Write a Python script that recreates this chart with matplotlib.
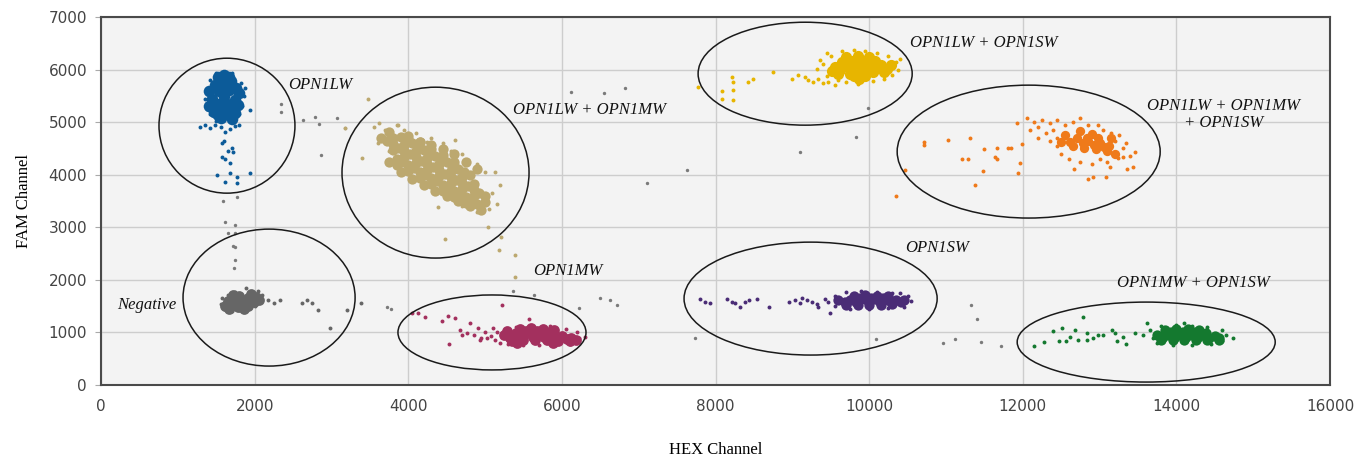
import matplotlib
matplotlib.use("Agg")
import matplotlib.pyplot as plt
from matplotlib.patches import Ellipse

# ---- droplet data (HEX, FAM) ----
# dense cores (drawn with bigger dots) and loose droplets around them

lw_core_x = [1480, 1620, 1760, 1450, 1600, 1740, 1470, 1610, 1750, 1520, 1660, 1560, 1700, 1540, 1680,
             1550, 1690, 1530, 1410, 1800, 1660, 1520, 1680, 1600, 1400, 1790, 1600]
lw_core_y = [5700, 5750, 5650, 5450, 5500, 5420, 5200, 5250, 5180, 5850, 5850, 5080, 5060, 5600, 5330,
             5780, 5780, 5350, 5600, 5550, 5620, 5130, 5150, 5400, 5300, 5330, 5900]
lw_x = [1370, 1390, 1420, 1860, 1840, 1820, 1500, 1700, 1600, 1420, 1800, 1350, 1880,
        1290, 1350, 1420, 1480, 1560, 1620, 1680, 1740, 1800, 1500, 1700, 1940, 1380,
        1575, 1600, 1720, 1575, 1620, 1680, 1680, 1510, 1770, 1940, 1770, 1610, 1700, 1650]
lw_y = [5600, 5350, 5800, 5500, 5300, 5750, 5930, 5940, 5960, 5150, 5150, 5450, 5650,
        4900, 4950, 4880, 4950, 4900, 4820, 4870, 4920, 4950, 5020, 5030, 5230, 5250,
        4600, 4650, 4430, 4340, 4300, 4220, 4030, 3990, 3950, 4030, 3840, 3860, 4500, 4450]

neg_core_x = [1650, 1780, 1910, 2020, 1620, 1740, 1870, 1990, 1720, 1860, 1700, 1950,
              1700, 1830, 1960, 1800, 1790, 1920, 2060, 1660]
neg_core_y = [1600, 1630, 1650, 1680, 1500, 1520, 1540, 1570, 1720, 1450, 1660, 1740,
              1580, 1590, 1610, 1700, 1480, 1500, 1620, 1450]
neg_x = [1560, 1580, 1600, 1650, 1700, 1800, 1900, 2000, 2080, 2100, 2050, 1950, 1750,
         2180, 2250, 2330, 2620, 2680, 2750, 2820, 2980, 3200, 3390, 1890]
neg_y = [1550, 1650, 1450, 1720, 1400, 1420, 1430, 1500, 1600, 1720, 1780, 1760, 1760,
         1620, 1560, 1620, 1560, 1620, 1560, 1430, 1080, 1430, 1560, 1840]

lm_core_x = [3650, 3800, 3950, 4100, 4250, 4400, 4550, 4700, 4850, 5000,
             3900, 4050, 4200, 4350, 4500, 4650, 4800,
             3850, 4000, 4150, 4300, 4450, 4600, 4750, 4900,
             3725, 3875, 4025, 4175, 4325, 4475, 4625, 4775, 4925,
             3975, 4125, 4275, 4425, 4575, 4725,
             3925, 4075, 4225, 4375, 4525, 4675, 4825,
             3750, 4000, 4150, 4300, 4450, 4600, 4750, 4900,
             3750, 3900, 4050, 4200, 4350, 4500, 4650, 4800, 4950,
             3800, 3950, 4100, 4250, 4400, 4550, 4700, 4850,
             3800, 3950, 4100, 4250, 4400, 4550, 4700, 4850, 5000,
             4000, 4150, 4300, 4450, 4600,
             3850, 4000, 4150, 4300, 4450, 4600, 4750]
lm_core_y = [4700, 4577, 4454, 4331, 4208, 4085, 3962, 3839, 3716, 3593,
             4725, 4602, 4479, 4356, 4233, 4110, 3987,
             4306, 4183, 4060, 3937, 3814, 3691, 3568, 3445,
             4638, 4515, 4392, 4270, 4146, 4023, 3900, 3777, 3655,
             4660, 4540, 4420, 4295, 4170, 4050,
             4250, 4120, 4000, 3875, 3750, 3630, 3510,
             4820, 4680, 4620, 4560, 4480, 4400, 4250, 4100,
             4250, 4050, 3920, 3800, 3700, 3600, 3500, 3400, 3330,
             4692, 4569, 4446, 4323, 4200, 4077, 3954, 3831,
             4462, 4339, 4216, 4093, 3970, 3847, 3724, 3601, 3478,
             4743, 4620, 4497, 4374, 4251,
             4191, 4068, 3945, 3822, 3699, 3576, 3453]
lm_x = [3550, 3600, 3700, 3750, 3850, 3950, 4100, 4300, 4450, 4610, 4700, 4900, 5000, 5130,
        5200, 5090, 5150, 5050, 4900, 4700, 4390, 3480, 3180, 3400, 3870, 3620, 4250, 4550,
        4480, 5040, 5210, 5180, 5390, 5390]
lm_y = [4900, 4600, 4850, 4450, 4950, 4850, 4800, 4700, 4600, 4660, 4400, 4200, 4050, 4050,
        3800, 3650, 3450, 3350, 3300, 3400, 3380, 5440, 4890, 4320, 4940, 4980, 4620, 4450,
        2780, 3000, 2810, 2570, 2470, 2050]

mw_core_x = [5250, 5400, 5550, 5700, 5850, 6000, 6120, 5350, 5500, 5650, 5800, 5950, 6100,
             5450, 5600, 5750, 5900,
             5320, 5470, 5620, 5770, 5920, 6070, 5530, 5680, 5830, 5280, 5420, 5880, 6180]
mw_core_y = [960, 980, 990, 990, 960, 930, 900, 840, 850, 860, 850, 840, 830,
             1060, 1080, 1070, 1040,
             900, 920, 920, 920, 900, 870, 1020, 1030, 1000, 1020, 800, 800, 860]
mw_x = [4050, 4130, 4220, 4440, 4520, 4610, 4670, 4760, 4800, 4910, 4930, 4530, 5020, 5100,
        5220, 5570, 4700, 4850, 5000, 4950, 5080, 5150, 5130,
        5200, 5300, 5500, 5700, 5900, 6100, 6220, 6300, 6200, 6050, 5850, 5600, 5400, 5300]
mw_y = [1370, 1370, 1300, 1220, 1310, 1270, 1040, 990, 1180, 1080, 850, 780, 890, 1080,
        1520, 1250, 950, 960, 1000, 900, 930, 1000, 850,
        800, 780, 760, 770, 760, 780, 890, 920, 1000, 1060, 1120, 1130, 1100, 1050]

ls_core_x = [9550, 9700, 9850, 10000, 10150, 9600, 9750, 9900, 10050, 10200, 9700, 9850, 10000,
             9800, 9950,
             9620, 9770, 9920, 10070, 10230, 9650, 9780, 9930, 10080, 9870, 9520, 10290]
ls_core_y = [6050, 6080, 6100, 6100, 6080, 5920, 5920, 5930, 5950, 5960, 6230, 6250, 6230,
             5870, 5870,
             6000, 6000, 6020, 6020, 6020, 6150, 6160, 6170, 6160, 5820, 5980, 6080]
ls_x = [7770, 8080, 8210, 8230, 8230, 8080, 8230, 8420, 8490, 8750, 9000, 9080, 9170, 9200,
        9270, 9340, 9400, 9460, 9560, 9320, 9360, 9450,
        9500, 9650, 9800, 9950, 10100, 10250, 10350, 10380, 10300, 10200, 10050, 9700, 9850,
        9450, 9400, 10400, 9600]
ls_y = [5670, 5590, 5850, 5760, 5620, 5440, 5420, 5760, 5830, 5950, 5830, 5890, 5850, 5800,
        5760, 5830, 5740, 5760, 5700, 6020, 6180, 6310,
        6250, 6350, 6380, 6360, 6320, 6250, 6150, 6000, 5900, 5820, 5780, 5760, 5720,
        5880, 6100, 6200, 5800]

lms_core_x = [12550, 12700, 12850, 13000, 13120, 12650, 12800, 12950, 13100, 13200, 12750, 12900,
              12620, 12780, 12930, 13060, 12830, 12980, 12500, 13150]
lms_core_y = [4750, 4700, 4650, 4600, 4550, 4550, 4500, 4480, 4450, 4400, 4830, 4780,
              4630, 4600, 4560, 4520, 4700, 4690, 4620, 4700]
lms_x = [10710, 10710, 11030, 11310, 11500, 11660, 11810, 11850, 11210, 11290, 11640, 11660,
         11480, 11380, 10470, 10350, 11940, 11960, 11990, 12670, 12850, 12920, 13080, 13360,
         13440, 13460, 13250, 13140, 13240, 13300, 12750, 12980, 11930, 12060,
         12150, 12250, 12350, 12450, 12100, 12200, 12300, 12400, 12200, 12350, 12450, 12550,
         12650, 12850, 13050, 13150, 13350, 13300, 13400, 12500, 12600, 12750, 12900, 13000,
         13100, 12450, 13200]
lms_y = [4620, 4560, 4660, 4700, 4490, 4510, 4510, 4510, 4300, 4300, 4330, 4300,
         4070, 3800, 4090, 3590, 4030, 4220, 4580, 4110, 3920, 3950, 3960, 4110,
         4140, 4430, 4750, 4140, 4320, 4330, 5080, 4940, 4980, 5070,
         5000, 5050, 4980, 5050, 4850, 4900, 4800, 4850, 4700, 4650, 4700, 4950,
         5000, 4950, 4850, 4800, 4600, 4500, 4350, 4400, 4300, 4250, 4200, 4300,
         4250, 4550, 4650]

sw_core_x = [9600, 9750, 9900, 10050, 10200, 10350, 10450, 9700, 9850, 10000, 10150, 10300,
             9800, 9950, 10100, 10250,
             9680, 9830, 9980, 10130, 10280, 10420, 9880, 10030, 10180]
sw_core_y = [1610, 1620, 1630, 1630, 1620, 1610, 1620, 1530, 1520, 1530, 1530, 1540,
             1700, 1710, 1700, 1690,
             1580, 1580, 1590, 1590, 1580, 1570, 1650, 1660, 1650]
sw_x = [7800, 7860, 7930, 8150, 8220, 8260, 8320, 8390, 8440, 8540, 8700, 8960, 9030, 9100,
        9120, 9190, 9260, 9320, 9340, 9430, 9490, 9470, 10400,
        9550, 9700, 9900, 10100, 10300, 10500, 10550, 10450, 10250, 10000, 9750, 9550]
sw_y = [1630, 1580, 1560, 1630, 1580, 1560, 1480, 1580, 1620, 1630, 1480, 1580, 1620, 1560,
        1650, 1620, 1580, 1540, 1480, 1630, 1370, 1580, 1750,
        1700, 1760, 1780, 1770, 1750, 1700, 1600, 1480, 1460, 1440, 1450, 1500]

ms_core_x = [13750, 13900, 14050, 14200, 14350, 14500, 13800, 13950, 14100, 14250, 14400, 14550,
             13850, 14000, 14150, 14300,
             13820, 13980, 14120, 14280, 14420, 14560, 13930, 14080, 14230, 14380]
ms_core_y = [950, 960, 970, 960, 950, 940, 850, 860, 860, 860, 850, 850,
             1050, 1060, 1060, 1040,
             910, 910, 920, 910, 900, 900, 1000, 1010, 1000, 990]
ms_x = [12140, 12270, 12400, 12470, 12510, 12560, 12620, 12680, 12720, 12780, 12840, 12840,
        12920, 12980, 13050, 13160, 13200, 13230, 13310, 13340, 13460, 13620,
        13650, 13700, 13800, 14000, 14200, 14400, 14600, 14650, 14600, 14450, 14200, 13950,
        13750, 14740, 13560, 14100]
ms_y = [740, 820, 1030, 840, 1080, 840, 910, 1050, 860, 1300, 990, 860,
        890, 950, 950, 1050, 990, 840, 910, 780, 990, 1180,
        1050, 900, 1120, 1150, 1130, 1100, 1050, 950, 830, 780, 760, 770,
        800, 890, 950, 1180]

# stray grey droplets
out_x = [2340, 2340, 2630, 2790, 2840, 3070, 2870, 3180, 1590, 1770, 1615, 1745, 1655, 1745,
         1720, 1745, 1745, 1730, 3720, 3770, 6630, 6720, 6500, 6120, 6550, 6820, 7630, 7110,
         9990, 9830, 9100, 7730, 10090, 11330, 11410, 10960, 11120, 11460, 11720,
         5370, 5640, 6220]
out_y = [5340, 5200, 5040, 5100, 4970, 5080, 4370, 4880, 3500, 3580, 3100, 3040, 2890, 2900,
         2640, 2620, 2380, 2230, 1480, 1440, 1620, 1520, 1650, 5570, 5550, 5650, 4090, 3840,
         5270, 4720, 4430, 890, 870, 1520, 1250, 800, 870, 820, 740,
         1790, 1710, 1460]

# gates: centre x, centre y, width, height
gate_cx = [1640, 4355, 2188, 5090, 9167, 12077, 9238, 13607]
gate_cy = [4933, 4040, 1663, 1000, 5922, 4440, 1644, 817]
gate_w = [1770, 2435, 2240, 2448, 2787, 3424, 3295, 3359]
gate_h = [2567, 3250, 2605, 1426, 1958, 2528, 2148, 1521]

labels = ["OPN1LW", "OPN1LW + OPN1MW", "Negative", "OPN1MW", "OPN1LW + OPN1SW",
          "OPN1LW + OPN1MW\n+ OPN1SW", "OPN1SW", "OPN1MW + OPN1SW"]
label_x = [2435, 5365, 208, 5625, 10534, 14610, 10470, 13230]
label_y = [5700, 5230, 1520, 2167, 6502, 5150, 2605, 1940]
label_ha = ["left", "left", "left", "left", "left", "center", "left", "left"]

fig = plt.figure(figsize=(13.63, 4.65), dpi=100)
ax = fig.add_axes([0.0741, 0.172, 0.9017, 0.7914])
ax.set_facecolor("#f3f3f3")

groups = [
    (lw_core_x, lw_core_y, lw_x, lw_y, "#0c5b99", 70),
    (neg_core_x, neg_core_y, neg_x, neg_y, "#666666", 60),
    (lm_core_x, lm_core_y, lm_x, lm_y, "#bca86f", 55),
    (mw_core_x, mw_core_y, mw_x, mw_y, "#a3305e", 60),
    (ls_core_x, ls_core_y, ls_x, ls_y, "#e7b500", 65),
    (lms_core_x, lms_core_y, lms_x, lms_y, "#ef7a1a", 45),
    (sw_core_x, sw_core_y, sw_x, sw_y, "#4a2c76", 55),
    (ms_core_x, ms_core_y, ms_x, ms_y, "#14792f", 55),
]
ax.scatter(out_x, out_y, s=6, color="#7a7a7a", linewidths=0, zorder=3)
for cx, cy, px, py, col, size in groups:
    ax.scatter(px, py, s=8, color=col, linewidths=0, zorder=3)
    ax.scatter(cx, cy, s=size, color=col, linewidths=0, zorder=3)

for cx, cy, w, h in zip(gate_cx, gate_cy, gate_w, gate_h):
    ax.add_patch(Ellipse((cx, cy), w, h, fill=False, edgecolor="#1a1a1a", lw=1.1, zorder=4))

for t, x, y, ha in zip(labels, label_x, label_y, label_ha):
    ax.text(x, y, t, ha=ha, va="center", fontsize=12, style="italic",
            family="Liberation Serif", color="#111111", linespacing=1.1, zorder=5)

ax.set_xlim(0, 16000)
ax.set_ylim(0, 7000)
ax.set_xticks(range(0, 16001, 2000))
ax.set_yticks(range(0, 7001, 1000))
ax.grid(True, color="#cdcdcd", lw=1)
ax.set_axisbelow(True)
for sp in ax.spines.values():
    sp.set_color("#4a4a4a")
    sp.set_linewidth(1.5)
ax.tick_params(axis="y", length=4, color="#aaaaaa", labelsize=11, labelcolor="#444444", pad=6)
ax.tick_params(axis="x", length=0, labelsize=11, labelcolor="#444444", pad=10)
for lab in ax.get_xticklabels():
    lab.set_family(["Liberation Sans Narrow", "DejaVu Sans"])

ax.set_xlabel("HEX Channel", family="Liberation Serif", fontsize=12, labelpad=20)
ax.set_ylabel("FAM Channel", family="Liberation Serif", fontsize=12, labelpad=12)

fig.savefig("out.png", dpi=100)
